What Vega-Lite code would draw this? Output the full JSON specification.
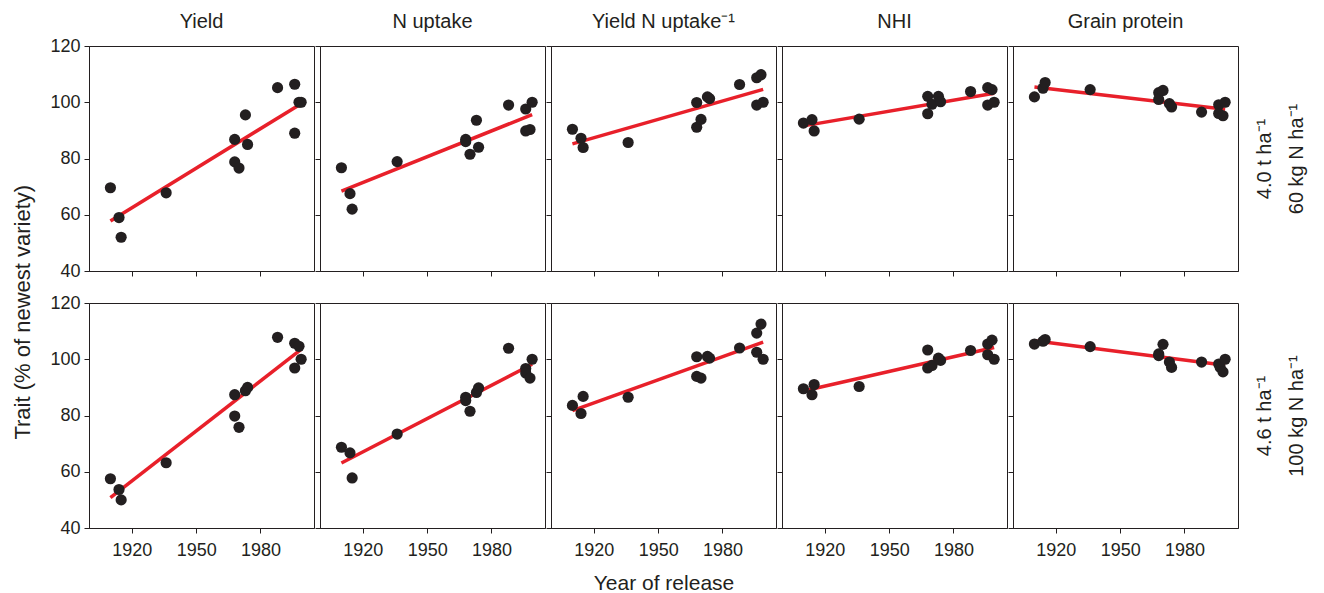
{
  "$schema": "https://vega.github.io/schema/vega-lite/v6.json",
  "background": "white",
  "padding": {"left": 12, "top": 11, "right": 5, "bottom": 5},
  "title": {"text": "Trait (% of newest variety)", "orient": "left", "anchor": "middle", "frame": "bounds", "fontSize": 22, "fontWeight": "normal", "color": "#231f20", "offset": 14, "dx": -10},
  "datasets": {
    "pts": [
      {"trait": "Y", "rate": "N60", "year": 1910, "v": 69.6}, {"trait": "Y", "rate": "N60", "year": 1914, "v": 59}, {"trait": "Y", "rate": "N60", "year": 1915, "v": 52}, {"trait": "Y", "rate": "N60", "year": 1936, "v": 67.8}, {"trait": "Y", "rate": "N60", "year": 1968, "v": 86.8}, {"trait": "Y", "rate": "N60", "year": 1968, "v": 78.8}, {"trait": "Y", "rate": "N60", "year": 1970, "v": 76.6}, {"trait": "Y", "rate": "N60", "year": 1973, "v": 95.5}, {"trait": "Y", "rate": "N60", "year": 1974, "v": 85}, {"trait": "Y", "rate": "N60", "year": 1988, "v": 105.2}, {"trait": "Y", "rate": "N60", "year": 1996, "v": 106.4}, {"trait": "Y", "rate": "N60", "year": 1996, "v": 89}, {"trait": "Y", "rate": "N60", "year": 1998, "v": 100}, {"trait": "Y", "rate": "N60", "year": 1999, "v": 100},
      {"trait": "N", "rate": "N60", "year": 1910, "v": 76.7}, {"trait": "N", "rate": "N60", "year": 1914, "v": 67.5}, {"trait": "N", "rate": "N60", "year": 1915, "v": 62}, {"trait": "N", "rate": "N60", "year": 1936, "v": 78.9}, {"trait": "N", "rate": "N60", "year": 1968, "v": 86.8}, {"trait": "N", "rate": "N60", "year": 1968, "v": 86}, {"trait": "N", "rate": "N60", "year": 1970, "v": 81.5}, {"trait": "N", "rate": "N60", "year": 1973, "v": 93.6}, {"trait": "N", "rate": "N60", "year": 1974, "v": 84}, {"trait": "N", "rate": "N60", "year": 1988, "v": 99}, {"trait": "N", "rate": "N60", "year": 1996, "v": 97.6}, {"trait": "N", "rate": "N60", "year": 1996, "v": 89.8}, {"trait": "N", "rate": "N60", "year": 1998, "v": 90.3}, {"trait": "N", "rate": "N60", "year": 1999, "v": 100},
      {"trait": "YN", "rate": "N60", "year": 1910, "v": 90.4}, {"trait": "YN", "rate": "N60", "year": 1914, "v": 87.2}, {"trait": "YN", "rate": "N60", "year": 1915, "v": 83.9}, {"trait": "YN", "rate": "N60", "year": 1936, "v": 85.7}, {"trait": "YN", "rate": "N60", "year": 1968, "v": 99.9}, {"trait": "YN", "rate": "N60", "year": 1968, "v": 91.1}, {"trait": "YN", "rate": "N60", "year": 1970, "v": 93.9}, {"trait": "YN", "rate": "N60", "year": 1973, "v": 101.9}, {"trait": "YN", "rate": "N60", "year": 1974, "v": 101.3}, {"trait": "YN", "rate": "N60", "year": 1988, "v": 106.3}, {"trait": "YN", "rate": "N60", "year": 1996, "v": 108.7}, {"trait": "YN", "rate": "N60", "year": 1996, "v": 99}, {"trait": "YN", "rate": "N60", "year": 1998, "v": 109.8}, {"trait": "YN", "rate": "N60", "year": 1999, "v": 100},
      {"trait": "NHI", "rate": "N60", "year": 1910, "v": 92.6}, {"trait": "NHI", "rate": "N60", "year": 1914, "v": 93.8}, {"trait": "NHI", "rate": "N60", "year": 1915, "v": 89.8}, {"trait": "NHI", "rate": "N60", "year": 1936, "v": 94}, {"trait": "NHI", "rate": "N60", "year": 1968, "v": 102.1}, {"trait": "NHI", "rate": "N60", "year": 1968, "v": 95.9}, {"trait": "NHI", "rate": "N60", "year": 1970, "v": 99.3}, {"trait": "NHI", "rate": "N60", "year": 1973, "v": 102.1}, {"trait": "NHI", "rate": "N60", "year": 1974, "v": 100.2}, {"trait": "NHI", "rate": "N60", "year": 1988, "v": 103.8}, {"trait": "NHI", "rate": "N60", "year": 1996, "v": 105.2}, {"trait": "NHI", "rate": "N60", "year": 1996, "v": 99}, {"trait": "NHI", "rate": "N60", "year": 1998, "v": 104.5}, {"trait": "NHI", "rate": "N60", "year": 1999, "v": 100},
      {"trait": "GP", "rate": "N60", "year": 1910, "v": 101.9}, {"trait": "GP", "rate": "N60", "year": 1914, "v": 105}, {"trait": "GP", "rate": "N60", "year": 1915, "v": 107}, {"trait": "GP", "rate": "N60", "year": 1936, "v": 104.5}, {"trait": "GP", "rate": "N60", "year": 1968, "v": 103.4}, {"trait": "GP", "rate": "N60", "year": 1968, "v": 101}, {"trait": "GP", "rate": "N60", "year": 1970, "v": 104.2}, {"trait": "GP", "rate": "N60", "year": 1973, "v": 99.5}, {"trait": "GP", "rate": "N60", "year": 1974, "v": 98.3}, {"trait": "GP", "rate": "N60", "year": 1988, "v": 96.5}, {"trait": "GP", "rate": "N60", "year": 1996, "v": 99.1}, {"trait": "GP", "rate": "N60", "year": 1996, "v": 96}, {"trait": "GP", "rate": "N60", "year": 1998, "v": 95.2}, {"trait": "GP", "rate": "N60", "year": 1999, "v": 100},
      {"trait": "Y", "rate": "N100", "year": 1910, "v": 57.5}, {"trait": "Y", "rate": "N100", "year": 1914, "v": 53.7}, {"trait": "Y", "rate": "N100", "year": 1915, "v": 50}, {"trait": "Y", "rate": "N100", "year": 1936, "v": 63.2}, {"trait": "Y", "rate": "N100", "year": 1968, "v": 87.4}, {"trait": "Y", "rate": "N100", "year": 1968, "v": 79.8}, {"trait": "Y", "rate": "N100", "year": 1970, "v": 75.8}, {"trait": "Y", "rate": "N100", "year": 1973, "v": 88.8}, {"trait": "Y", "rate": "N100", "year": 1974, "v": 90}, {"trait": "Y", "rate": "N100", "year": 1988, "v": 107.8}, {"trait": "Y", "rate": "N100", "year": 1996, "v": 105.7}, {"trait": "Y", "rate": "N100", "year": 1996, "v": 96.9}, {"trait": "Y", "rate": "N100", "year": 1998, "v": 104.6}, {"trait": "Y", "rate": "N100", "year": 1999, "v": 100},
      {"trait": "N", "rate": "N100", "year": 1910, "v": 68.7}, {"trait": "N", "rate": "N100", "year": 1914, "v": 66.7}, {"trait": "N", "rate": "N100", "year": 1915, "v": 57.8}, {"trait": "N", "rate": "N100", "year": 1936, "v": 73.4}, {"trait": "N", "rate": "N100", "year": 1968, "v": 86.5}, {"trait": "N", "rate": "N100", "year": 1968, "v": 85.3}, {"trait": "N", "rate": "N100", "year": 1970, "v": 81.5}, {"trait": "N", "rate": "N100", "year": 1973, "v": 88.2}, {"trait": "N", "rate": "N100", "year": 1974, "v": 89.8}, {"trait": "N", "rate": "N100", "year": 1988, "v": 103.9}, {"trait": "N", "rate": "N100", "year": 1996, "v": 96.7}, {"trait": "N", "rate": "N100", "year": 1996, "v": 95.1}, {"trait": "N", "rate": "N100", "year": 1998, "v": 93.3}, {"trait": "N", "rate": "N100", "year": 1999, "v": 100},
      {"trait": "YN", "rate": "N100", "year": 1910, "v": 83.6}, {"trait": "YN", "rate": "N100", "year": 1914, "v": 80.7}, {"trait": "YN", "rate": "N100", "year": 1915, "v": 86.8}, {"trait": "YN", "rate": "N100", "year": 1936, "v": 86.5}, {"trait": "YN", "rate": "N100", "year": 1968, "v": 100.9}, {"trait": "YN", "rate": "N100", "year": 1968, "v": 93.9}, {"trait": "YN", "rate": "N100", "year": 1970, "v": 93.3}, {"trait": "YN", "rate": "N100", "year": 1973, "v": 101}, {"trait": "YN", "rate": "N100", "year": 1974, "v": 100.4}, {"trait": "YN", "rate": "N100", "year": 1988, "v": 104}, {"trait": "YN", "rate": "N100", "year": 1996, "v": 109.3}, {"trait": "YN", "rate": "N100", "year": 1996, "v": 102.5}, {"trait": "YN", "rate": "N100", "year": 1998, "v": 112.5}, {"trait": "YN", "rate": "N100", "year": 1999, "v": 100},
      {"trait": "NHI", "rate": "N100", "year": 1910, "v": 89.5}, {"trait": "NHI", "rate": "N100", "year": 1914, "v": 87.4}, {"trait": "NHI", "rate": "N100", "year": 1915, "v": 91}, {"trait": "NHI", "rate": "N100", "year": 1936, "v": 90.3}, {"trait": "NHI", "rate": "N100", "year": 1968, "v": 103.3}, {"trait": "NHI", "rate": "N100", "year": 1968, "v": 96.9}, {"trait": "NHI", "rate": "N100", "year": 1970, "v": 97.8}, {"trait": "NHI", "rate": "N100", "year": 1973, "v": 100.4}, {"trait": "NHI", "rate": "N100", "year": 1974, "v": 99.6}, {"trait": "NHI", "rate": "N100", "year": 1988, "v": 103.1}, {"trait": "NHI", "rate": "N100", "year": 1996, "v": 105.4}, {"trait": "NHI", "rate": "N100", "year": 1996, "v": 101.6}, {"trait": "NHI", "rate": "N100", "year": 1998, "v": 106.8}, {"trait": "NHI", "rate": "N100", "year": 1999, "v": 100},
      {"trait": "GP", "rate": "N100", "year": 1910, "v": 105.4}, {"trait": "GP", "rate": "N100", "year": 1914, "v": 106.4}, {"trait": "GP", "rate": "N100", "year": 1915, "v": 107}, {"trait": "GP", "rate": "N100", "year": 1936, "v": 104.5}, {"trait": "GP", "rate": "N100", "year": 1968, "v": 101.9}, {"trait": "GP", "rate": "N100", "year": 1968, "v": 101.3}, {"trait": "GP", "rate": "N100", "year": 1970, "v": 105.3}, {"trait": "GP", "rate": "N100", "year": 1973, "v": 99}, {"trait": "GP", "rate": "N100", "year": 1974, "v": 97.1}, {"trait": "GP", "rate": "N100", "year": 1988, "v": 99}, {"trait": "GP", "rate": "N100", "year": 1996, "v": 98.3}, {"trait": "GP", "rate": "N100", "year": 1996.7, "v": 97.1}, {"trait": "GP", "rate": "N100", "year": 1998, "v": 95.5}, {"trait": "GP", "rate": "N100", "year": 1999, "v": 100}
    ],
    "fit": [
      {"trait": "Y", "rate": "N60", "year": 1910, "v": 57.8}, {"trait": "Y", "rate": "N60", "year": 1999, "v": 99.5},
      {"trait": "N", "rate": "N60", "year": 1910, "v": 68.4}, {"trait": "N", "rate": "N60", "year": 1999, "v": 95.6},
      {"trait": "YN", "rate": "N60", "year": 1910, "v": 85.2}, {"trait": "YN", "rate": "N60", "year": 1999, "v": 104.6},
      {"trait": "NHI", "rate": "N60", "year": 1910, "v": 91.6}, {"trait": "NHI", "rate": "N60", "year": 1999, "v": 103.2},
      {"trait": "GP", "rate": "N60", "year": 1910, "v": 105.4}, {"trait": "GP", "rate": "N60", "year": 1999, "v": 97.5},
      {"trait": "Y", "rate": "N100", "year": 1910, "v": 50.8}, {"trait": "Y", "rate": "N100", "year": 1999, "v": 103.5},
      {"trait": "N", "rate": "N100", "year": 1910, "v": 63.1}, {"trait": "N", "rate": "N100", "year": 1999, "v": 98.2},
      {"trait": "YN", "rate": "N100", "year": 1910, "v": 81.7}, {"trait": "YN", "rate": "N100", "year": 1999, "v": 106.1},
      {"trait": "NHI", "rate": "N100", "year": 1910, "v": 88.7}, {"trait": "NHI", "rate": "N100", "year": 1999, "v": 104.2},
      {"trait": "GP", "rate": "N100", "year": 1910, "v": 106.6}, {"trait": "GP", "rate": "N100", "year": 1999, "v": 97.9}
    ]
  },
  "columns": 5,
  "bounds": "flush",
  "spacing": {"row": 32, "column": 6},
  "concat": [
    {"width": 225, "height": 225, "title": {"text": "Yield", "dy": 9}, "layer": [
      {"data": {"name": "fit"}, "transform": [{"filter": "datum.trait == 'Y' && datum.rate == 'N60'"}], "mark": "line",
       "encoding": {"x": {"field": "year", "type": "quantitative", "scale": {"domain": [1900, 2005], "nice": false}, "axis": {"values": [1920, 1950, 1980], "format": "d", "labels": false, "title": null}},
                    "y": {"field": "v", "type": "quantitative", "scale": {"domain": [40, 120], "nice": false}, "axis": {"values": [40, 60, 80, 100, 120], "labels": true, "title": null}}}},
      {"data": {"name": "pts"}, "transform": [{"filter": "datum.trait == 'Y' && datum.rate == 'N60'"}], "mark": "circle",
       "encoding": {"x": {"field": "year", "type": "quantitative", "scale": {"domain": [1900, 2005], "nice": false}}, "y": {"field": "v", "type": "quantitative", "scale": {"domain": [40, 120], "nice": false}}}}
    ]},
    {"width": 225, "height": 225, "title": "N uptake", "layer": [
      {"data": {"name": "fit"}, "transform": [{"filter": "datum.trait == 'N' && datum.rate == 'N60'"}], "mark": "line",
       "encoding": {"x": {"field": "year", "type": "quantitative", "scale": {"domain": [1900, 2005], "nice": false}, "axis": {"values": [1920, 1950, 1980], "format": "d", "labels": false, "title": null}},
                    "y": {"field": "v", "type": "quantitative", "scale": {"domain": [40, 120], "nice": false}, "axis": {"values": [40, 60, 80, 100, 120], "labels": false, "title": null}}}},
      {"data": {"name": "pts"}, "transform": [{"filter": "datum.trait == 'N' && datum.rate == 'N60'"}], "mark": "circle",
       "encoding": {"x": {"field": "year", "type": "quantitative", "scale": {"domain": [1900, 2005], "nice": false}}, "y": {"field": "v", "type": "quantitative", "scale": {"domain": [40, 120], "nice": false}}}}
    ]},
    {"width": 225, "height": 225, "title": "Yield N uptake⁻¹", "layer": [
      {"data": {"name": "fit"}, "transform": [{"filter": "datum.trait == 'YN' && datum.rate == 'N60'"}], "mark": "line",
       "encoding": {"x": {"field": "year", "type": "quantitative", "scale": {"domain": [1900, 2005], "nice": false}, "axis": {"values": [1920, 1950, 1980], "format": "d", "labels": false, "title": null}},
                    "y": {"field": "v", "type": "quantitative", "scale": {"domain": [40, 120], "nice": false}, "axis": {"values": [40, 60, 80, 100, 120], "labels": false, "title": null}}}},
      {"data": {"name": "pts"}, "transform": [{"filter": "datum.trait == 'YN' && datum.rate == 'N60'"}], "mark": "circle",
       "encoding": {"x": {"field": "year", "type": "quantitative", "scale": {"domain": [1900, 2005], "nice": false}}, "y": {"field": "v", "type": "quantitative", "scale": {"domain": [40, 120], "nice": false}}}}
    ]},
    {"width": 225, "height": 225, "title": "NHI", "layer": [
      {"data": {"name": "fit"}, "transform": [{"filter": "datum.trait == 'NHI' && datum.rate == 'N60'"}], "mark": "line",
       "encoding": {"x": {"field": "year", "type": "quantitative", "scale": {"domain": [1900, 2005], "nice": false}, "axis": {"values": [1920, 1950, 1980], "format": "d", "labels": false, "title": null}},
                    "y": {"field": "v", "type": "quantitative", "scale": {"domain": [40, 120], "nice": false}, "axis": {"values": [40, 60, 80, 100, 120], "labels": false, "title": null}}}},
      {"data": {"name": "pts"}, "transform": [{"filter": "datum.trait == 'NHI' && datum.rate == 'N60'"}], "mark": "circle",
       "encoding": {"x": {"field": "year", "type": "quantitative", "scale": {"domain": [1900, 2005], "nice": false}}, "y": {"field": "v", "type": "quantitative", "scale": {"domain": [40, 120], "nice": false}}}}
    ]},
    {"width": 225, "height": 225, "title": "Grain protein", "resolve": {"axis": {"y": "independent"}}, "layer": [
      {"data": {"name": "fit"}, "transform": [{"filter": "datum.trait == 'GP' && datum.rate == 'N60'"}], "mark": "line",
       "encoding": {"x": {"field": "year", "type": "quantitative", "scale": {"domain": [1900, 2005], "nice": false}, "axis": {"values": [1920, 1950, 1980], "format": "d", "labels": false, "title": null}},
                    "y": {"field": "v", "type": "quantitative", "scale": {"domain": [40, 120], "nice": false}, "axis": {"orient": "left", "values": [40, 60, 80, 100, 120], "labels": false, "title": null}}}},
      {"data": {"name": "pts"}, "transform": [{"filter": "datum.trait == 'GP' && datum.rate == 'N60'"}], "mark": "circle",
       "encoding": {"x": {"field": "year", "type": "quantitative", "scale": {"domain": [1900, 2005], "nice": false}},
                    "y": {"field": "v", "type": "quantitative", "scale": {"domain": [40, 120], "nice": false}, "axis": {"orient": "right", "labels": false, "ticks": false, "domain": false, "title": ["4.0 t ha⁻¹", "60 kg N ha⁻¹"], "titleAngle": 270, "titlePadding": 4, "titleFontSize": 20, "titleLineHeight": 32}}}}
    ]},
    {"width": 225, "height": 225, "layer": [
      {"data": {"name": "fit"}, "transform": [{"filter": "datum.trait == 'Y' && datum.rate == 'N100'"}], "mark": "line",
       "encoding": {"x": {"field": "year", "type": "quantitative", "scale": {"domain": [1900, 2005], "nice": false}, "axis": {"values": [1920, 1950, 1980], "format": "d", "labels": true, "title": null}},
                    "y": {"field": "v", "type": "quantitative", "scale": {"domain": [40, 120], "nice": false}, "axis": {"values": [40, 60, 80, 100, 120], "labels": true, "title": null}}}},
      {"data": {"name": "pts"}, "transform": [{"filter": "datum.trait == 'Y' && datum.rate == 'N100'"}], "mark": "circle",
       "encoding": {"x": {"field": "year", "type": "quantitative", "scale": {"domain": [1900, 2005], "nice": false}}, "y": {"field": "v", "type": "quantitative", "scale": {"domain": [40, 120], "nice": false}}}}
    ]},
    {"width": 225, "height": 225, "layer": [
      {"data": {"name": "fit"}, "transform": [{"filter": "datum.trait == 'N' && datum.rate == 'N100'"}], "mark": "line",
       "encoding": {"x": {"field": "year", "type": "quantitative", "scale": {"domain": [1900, 2005], "nice": false}, "axis": {"values": [1920, 1950, 1980], "format": "d", "labels": true, "title": null}},
                    "y": {"field": "v", "type": "quantitative", "scale": {"domain": [40, 120], "nice": false}, "axis": {"values": [40, 60, 80, 100, 120], "labels": false, "title": null}}}},
      {"data": {"name": "pts"}, "transform": [{"filter": "datum.trait == 'N' && datum.rate == 'N100'"}], "mark": "circle",
       "encoding": {"x": {"field": "year", "type": "quantitative", "scale": {"domain": [1900, 2005], "nice": false}}, "y": {"field": "v", "type": "quantitative", "scale": {"domain": [40, 120], "nice": false}}}}
    ]},
    {"width": 225, "height": 225, "layer": [
      {"data": {"name": "fit"}, "transform": [{"filter": "datum.trait == 'YN' && datum.rate == 'N100'"}], "mark": "line",
       "encoding": {"x": {"field": "year", "type": "quantitative", "scale": {"domain": [1900, 2005], "nice": false}, "axis": {"values": [1920, 1950, 1980], "format": "d", "labels": true, "title": "Year of release", "titleFontSize": 21, "titlePadding": 13}},
                    "y": {"field": "v", "type": "quantitative", "scale": {"domain": [40, 120], "nice": false}, "axis": {"values": [40, 60, 80, 100, 120], "labels": false, "title": null}}}},
      {"data": {"name": "pts"}, "transform": [{"filter": "datum.trait == 'YN' && datum.rate == 'N100'"}], "mark": "circle",
       "encoding": {"x": {"field": "year", "type": "quantitative", "scale": {"domain": [1900, 2005], "nice": false}}, "y": {"field": "v", "type": "quantitative", "scale": {"domain": [40, 120], "nice": false}}}}
    ]},
    {"width": 225, "height": 225, "layer": [
      {"data": {"name": "fit"}, "transform": [{"filter": "datum.trait == 'NHI' && datum.rate == 'N100'"}], "mark": "line",
       "encoding": {"x": {"field": "year", "type": "quantitative", "scale": {"domain": [1900, 2005], "nice": false}, "axis": {"values": [1920, 1950, 1980], "format": "d", "labels": true, "title": null}},
                    "y": {"field": "v", "type": "quantitative", "scale": {"domain": [40, 120], "nice": false}, "axis": {"values": [40, 60, 80, 100, 120], "labels": false, "title": null}}}},
      {"data": {"name": "pts"}, "transform": [{"filter": "datum.trait == 'NHI' && datum.rate == 'N100'"}], "mark": "circle",
       "encoding": {"x": {"field": "year", "type": "quantitative", "scale": {"domain": [1900, 2005], "nice": false}}, "y": {"field": "v", "type": "quantitative", "scale": {"domain": [40, 120], "nice": false}}}}
    ]},
    {"width": 225, "height": 225, "resolve": {"axis": {"y": "independent"}}, "layer": [
      {"data": {"name": "fit"}, "transform": [{"filter": "datum.trait == 'GP' && datum.rate == 'N100'"}], "mark": "line",
       "encoding": {"x": {"field": "year", "type": "quantitative", "scale": {"domain": [1900, 2005], "nice": false}, "axis": {"values": [1920, 1950, 1980], "format": "d", "labels": true, "title": null}},
                    "y": {"field": "v", "type": "quantitative", "scale": {"domain": [40, 120], "nice": false}, "axis": {"orient": "left", "values": [40, 60, 80, 100, 120], "labels": false, "title": null}}}},
      {"data": {"name": "pts"}, "transform": [{"filter": "datum.trait == 'GP' && datum.rate == 'N100'"}], "mark": "circle",
       "encoding": {"x": {"field": "year", "type": "quantitative", "scale": {"domain": [1900, 2005], "nice": false}},
                    "y": {"field": "v", "type": "quantitative", "scale": {"domain": [40, 120], "nice": false}, "axis": {"orient": "right", "labels": false, "ticks": false, "domain": false, "title": ["4.6 t ha⁻¹", "100 kg N ha⁻¹"], "titleAngle": 270, "titlePadding": 4, "titleFontSize": 20, "titleLineHeight": 32}}}}
    ]}
  ],
  "config": {
    "font": "Liberation Sans",
    "view": {"stroke": "#231f20", "strokeWidth": 1},
    "axis": {"grid": false, "domainColor": "#231f20", "tickColor": "#231f20", "tickSize": 5, "labelFontSize": 18, "labelColor": "#231f20", "labelPadding": 4, "titleFontWeight": "normal", "titleColor": "#231f20"},
    "axisX": {"labelPadding": 8},
    "title": {"fontSize": 20, "fontWeight": "normal", "color": "#231f20", "offset": 14, "frame": "group"},
    "circle": {"size": 125, "color": "#231f20", "opacity": 1},
    "line": {"color": "#e8202a", "strokeWidth": 3.5}
  }
}
